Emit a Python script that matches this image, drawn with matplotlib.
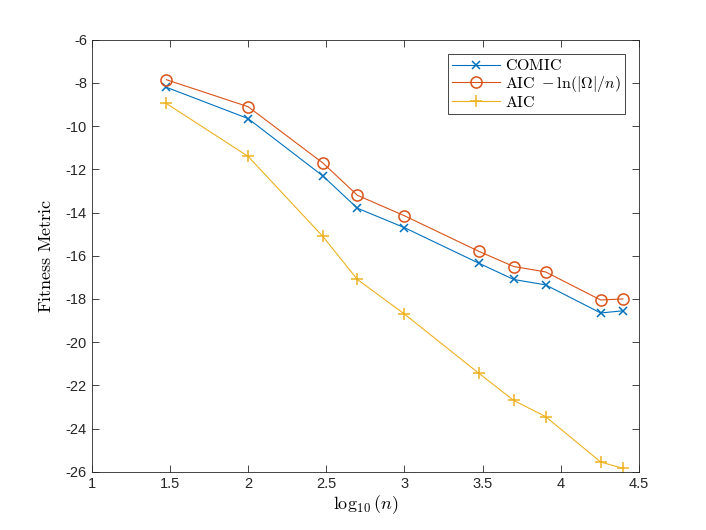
import numpy as np
import matplotlib
matplotlib.use('Agg')
import matplotlib.pyplot as plt

plt.rcParams['font.family'] = ['Liberation Sans', 'DejaVu Sans']
plt.rcParams['mathtext.fontset'] = 'cm'
plt.rcParams['axes.unicode_minus'] = False

n = [30, 100, 300, 500, 1000, 3000, 5000, 8000, 18000, 25000]
x = np.log10(n)
comic = [-8.2, -9.65, -12.3, -13.8, -14.7, -16.35, -17.1, -17.35, -18.65, -18.55]
aic_ln = [-7.85, -9.1, -11.7, -13.2, -14.15, -15.8, -16.5, -16.75, -18.05, -18.0]
aic = [-8.95, -11.4, -15.1, -17.1, -18.7, -21.45, -22.7, -23.45, -25.55, -25.85]

fig = plt.figure(figsize=(7.06, 5.3), dpi=100)
ax = fig.add_axes([0.13, 0.11, 0.775, 0.815])

ax.plot(x, comic, '-x', color='#0072BD', lw=0.8, ms=6, mew=1.1, label=r'$\mathrm{COMIC}$')
ax.plot(x, aic_ln, '-o', color='#D95319', lw=0.8, ms=8, mfc='none', mew=1.1,
        label=r'$\mathrm{AIC}\ -\ln(|\Omega|/n)$')
ax.plot(x, aic, '-+', color='#EDB120', lw=0.8, ms=9, mew=1.1, label=r'$\mathrm{AIC}$')

ax.set_xlim(1, 4.5)
ax.set_ylim(-26, -6)
ax.set_xticks(np.arange(1, 4.51, 0.5))
ax.set_xticklabels(['1', '1.5', '2', '2.5', '3', '3.5', '4', '4.5'])
ax.set_yticks(np.arange(-26, -5, 2))
ax.tick_params(direction='in', top=True, right=True, labelsize=10.5, color='#262626',
               labelcolor='#262626', length=5, width=0.6)
for s in ax.spines.values():
    s.set_linewidth(0.6)
    s.set_color('#262626')

ax.set_xlabel(r'$\log_{10}(n)$', fontsize=13, labelpad=2)
ax.set_ylabel(r'$\mathrm{Fitness\ Metric}$', fontsize=13, labelpad=8)

leg = ax.legend(loc='upper right', fontsize=11.5, fancybox=False, framealpha=1,
                edgecolor='#262626', borderpad=0.25, labelspacing=0.05,
                handlelength=3.0, handletextpad=0.3, borderaxespad=0.9)
leg.get_frame().set_linewidth(0.6)

fig.savefig('out.png', dpi=100)
